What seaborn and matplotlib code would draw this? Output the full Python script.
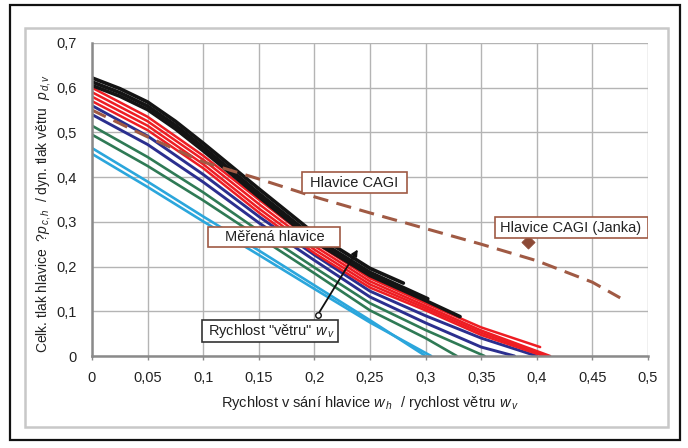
import numpy as np
import pandas as pd
import matplotlib
matplotlib.use("Agg")
import matplotlib.pyplot as plt
import seaborn as sns
from matplotlib.patches import Rectangle

# ---------------- data ----------------
x_ticks = [0, 0.05, 0.1, 0.15, 0.2, 0.25, 0.3, 0.35, 0.4, 0.45, 0.5]
x_tick_labels = ["0", "0,05", "0,1", "0,15", "0,2", "0,25", "0,3", "0,35", "0,4", "0,45", "0,5"]
y_ticks = [0, 0.1, 0.2, 0.3, 0.4, 0.5, 0.6, 0.7]
y_tick_labels = ["0", "0,1", "0,2", "0,3", "0,4", "0,5", "0,6", "0,7"]

# cyan series
cyan1_x = [0, 0.05, 0.1, 0.15, 0.2, 0.25, 0.300]
cyan1_y = [0.465, 0.39, 0.312, 0.236, 0.158, 0.08, 0.0]
cyan2_x = [0, 0.05, 0.1, 0.15, 0.2, 0.25, 0.305]
cyan2_y = [0.452, 0.378, 0.301, 0.226, 0.150, 0.075, 0.0]
# green series
green1_x = [0, 0.05, 0.1, 0.15, 0.2, 0.25, 0.3, 0.353]
green1_y = [0.515, 0.445, 0.366, 0.280, 0.198, 0.118, 0.058, 0.0]
green2_x = [0, 0.05, 0.1, 0.15, 0.2, 0.25, 0.3, 0.328]
green2_y = [0.495, 0.425, 0.348, 0.266, 0.185, 0.102, 0.040, 0.0]
# blue series
blue1_x = [0, 0.05, 0.1, 0.15, 0.2, 0.25, 0.3, 0.35, 0.400]
blue1_y = [0.560, 0.492, 0.406, 0.312, 0.226, 0.145, 0.090, 0.040, 0.0]
blue2_x = [0, 0.05, 0.1, 0.15, 0.2, 0.25, 0.3, 0.35, 0.380]
blue2_y = [0.540, 0.473, 0.389, 0.298, 0.214, 0.132, 0.074, 0.020, 0.0]
# red series
red1_x = [0, 0.05, 0.1, 0.15, 0.2, 0.25, 0.3, 0.35, 0.403]
red1_y = [0.600, 0.535, 0.448, 0.350, 0.254, 0.174, 0.118, 0.064, 0.020]
red2_x = [0, 0.05, 0.1, 0.15, 0.2, 0.25, 0.3, 0.35, 0.412]
red2_y = [0.590, 0.525, 0.439, 0.340, 0.246, 0.167, 0.112, 0.057, 0.0]
red3_x = [0, 0.05, 0.1, 0.15, 0.2, 0.25, 0.3, 0.35, 0.409]
red3_y = [0.580, 0.515, 0.429, 0.330, 0.238, 0.160, 0.107, 0.052, 0.0]
red4_x = [0, 0.05, 0.1, 0.15, 0.2, 0.25, 0.3, 0.35, 0.406]
red4_y = [0.570, 0.505, 0.420, 0.321, 0.230, 0.153, 0.102, 0.047, 0.0]
# black series
black1_x = [0, 0.025, 0.05, 0.075, 0.1, 0.15, 0.2, 0.25, 0.280]
black1_y = [0.622, 0.598, 0.568, 0.525, 0.476, 0.374, 0.274, 0.196, 0.163]
black2_x = [0, 0.025, 0.05, 0.075, 0.1, 0.15, 0.2, 0.25, 0.302]
black2_y = [0.613, 0.589, 0.559, 0.516, 0.467, 0.364, 0.264, 0.187, 0.128]
black3_x = [0, 0.025, 0.05, 0.075, 0.1, 0.15, 0.2, 0.25, 0.3, 0.331]
black3_y = [0.605, 0.581, 0.551, 0.508, 0.459, 0.356, 0.256, 0.180, 0.124, 0.088]
# CAGI head (dashed)
cagi_x = [0, 0.05, 0.1, 0.15, 0.2, 0.25, 0.3, 0.35, 0.4, 0.45, 0.475]
cagi_y = [0.550, 0.490, 0.434, 0.396, 0.356, 0.320, 0.285, 0.250, 0.213, 0.165, 0.130]
# CAGI (Janka) point
janka_x = [0.392]
janka_y = [0.254]

# ---------------- style ----------------
sns.set_theme(style="white")
plt.rcParams["font.family"] = ["Liberation Sans", "DejaVu Sans"]
plt.rcParams["mathtext.fontset"] = "custom"
plt.rcParams["mathtext.rm"] = "Liberation Sans"
plt.rcParams["mathtext.it"] = "Liberation Sans:italic"

C_CYAN = "#2ba6dc"
C_GREEN = "#2f7a55"
C_BLUE = "#2b2f8f"
C_RED = "#ee1d23"
C_BLACK = "#141414"
C_BROWN = "#a05a44"
TXT = "#222222"

W, H = 688, 448
fig = plt.figure(figsize=(W / 100, H / 100), dpi=100)
ax = fig.add_axes([92 / W, 92 / H, 556 / W, 313 / H])

# outer frames
fig.patches.append(Rectangle((10 / W, 8 / H), 670 / W, 435 / H,
                             transform=fig.transFigure, fill=False,
                             edgecolor="#111111", linewidth=1.6, zorder=0))
fig.patches.append(Rectangle((25 / W, 21 / H), 643 / W, 399 / H,
                             transform=fig.transFigure, fill=False,
                             edgecolor="#c8c8c8", linewidth=1.8, zorder=0))

def draw(xs, ys, color, lw, **kw):
    df = pd.DataFrame({"x": xs, "y": ys})
    sns.lineplot(data=df, x="x", y="y", color=color, linewidth=lw,
                 sort=False, estimator=None, ax=ax, **kw)

for xs, ys in [(cyan1_x, cyan1_y), (cyan2_x, cyan2_y)]:
    draw(xs, ys, C_CYAN, 1.9)
for xs, ys in [(green1_x, green1_y), (green2_x, green2_y)]:
    draw(xs, ys, C_GREEN, 1.9)
for xs, ys in [(blue1_x, blue1_y), (blue2_x, blue2_y)]:
    draw(xs, ys, C_BLUE, 2.1)
for xs, ys in [(red1_x, red1_y), (red2_x, red2_y), (red3_x, red3_y), (red4_x, red4_y)]:
    draw(xs, ys, C_RED, 1.8)
for xs, ys in [(black1_x, black1_y), (black2_x, black2_y), (black3_x, black3_y)]:
    draw(xs, ys, C_BLACK, 2.6)

draw(cagi_x, cagi_y, C_BROWN, 2.2, linestyle=(0, (5, 2.8)))
sns.scatterplot(x=janka_x, y=janka_y, marker="D", s=45, color="#8c4a36",
                edgecolor="#8c4a36", ax=ax, zorder=5)

# axes
ax.set_xlim(0, 0.5)
ax.set_ylim(0, 0.7)
ax.set_xticks(x_ticks)
ax.set_xticklabels(x_tick_labels)
ax.set_yticks(y_ticks)
ax.set_yticklabels(y_tick_labels)
ax.grid(True, color="#b4b4b4", linewidth=1.0)
ax.set_axisbelow(True)
for s in ["top", "right"]:
    ax.spines[s].set_visible(False)
for s in ["left", "bottom"]:
    ax.spines[s].set_color("#8a8a8a")
    ax.spines[s].set_linewidth(1.8)
ax.tick_params(axis="both", labelsize=10.5, colors=TXT, length=3,
               width=1, color="#8a8a8a")
ax.tick_params(axis="x", pad=8, direction="out", bottom=True)
ax.tick_params(axis="y", pad=8, left=False)

ax.set_xlabel(r"Rychlost v sání hlavice $w_{\,h}$  / rychlost větru $w_{\,v}$",
              fontsize=10.5, color=TXT)
ax.xaxis.set_label_coords(0.5, -0.122)
ax.set_ylabel(r"Celk. tlak hlavice  ?$p_{\,c,h}$  / dyn. tlak větru  $p_{\,d,v}$",
              fontsize=10, color=TXT)
ax.yaxis.set_label_coords(-0.07, 0.455)


def px2data(px, py):
    return (px - 92) / 1112.0, (356 - py) / 447.0


def label_box(x0, x1, y0, y1, tx, text, edge):
    dx0, dy1 = px2data(x0, y0)
    dx1, dy0 = px2data(x1, y1)
    ax.add_patch(Rectangle((dx0, dy0), dx1 - dx0, dy1 - dy0, facecolor="white",
                           edgecolor=edge, linewidth=1.2, zorder=6))
    cx, cy = px2data(tx, (y0 + y1) / 2 + 0.5)
    ax.text(cx, cy, text, ha="center", va="center", fontsize=10.5, color=TXT, zorder=7)


label_box(302, 407, 172, 193, 354, "Hlavice CAGI", C_BROWN)
label_box(495, 648, 217, 238, 571, "Hlavice CAGI (Janka)", C_BROWN)
label_box(208, 340, 227, 247, 275, "Měřená hlavice", C_BROWN)
label_box(202, 338, 320, 342, 271, 'Rychlost "větru" $w_{\\,v}$', "#333333")

# arrow
ax.annotate("", xy=(0.239, 0.238), xytext=(0.203, 0.092),
            arrowprops=dict(arrowstyle="-|>", color="#111111", lw=1.3,
                            mutation_scale=9, shrinkA=0, shrinkB=0), zorder=8)
ax.plot([0.203], [0.092], marker="o", markersize=4, markerfacecolor="white",
        markeredgecolor="#111111", zorder=9)

fig.savefig("out.png", dpi=100)
